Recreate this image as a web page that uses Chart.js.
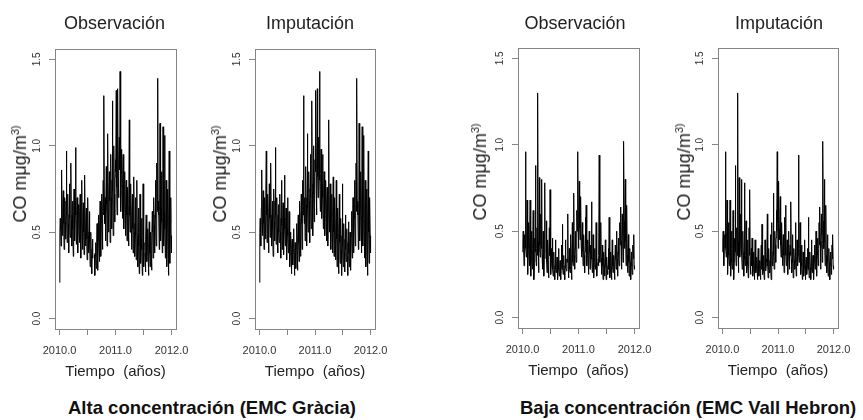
<!DOCTYPE html>
<html>
<head>
<meta charset="utf-8">
<script src="https://cdn.jsdelivr.net/npm/chart.js@4.4.0/dist/chart.umd.min.js"></script>
<style>
html,body{margin:0;padding:0;background:#fff;}
body{width:863px;height:420px;position:relative;overflow:hidden;font-family:"Liberation Sans",Arial,sans-serif;}
canvas{position:absolute;top:0;}
.t{position:absolute;white-space:nowrap;color:#222;line-height:1;}
.pt{font-size:18px;top:23px;transform:translate(-50%,-50%);}
.yt{font-size:18px;transform:translate(-50%,-50%) rotate(-90deg);}
.yt sup{font-size:11px;vertical-align:7px;line-height:0;}
.bt{font-weight:bold;font-size:18.5px;top:408px;transform:translateY(-50%);color:#111;}
</style>
</head>
<body>
<canvas id="c0"></canvas>
<canvas id="c1"></canvas>
<canvas id="c2"></canvas>
<canvas id="c3"></canvas>

<div class="t pt" style="left:114.5px">Observación</div>
<div class="t pt" style="left:310px">Imputación</div>
<div class="t pt" style="left:575px">Observación</div>
<div class="t pt" style="left:779px">Imputación</div>

<div class="t yt" style="left:20px;top:174px">CO mμg/m<sup>3)</sup></div>
<div class="t yt" style="left:220px;top:174px">CO mμg/m<sup>3)</sup></div>
<div class="t yt" style="left:480px;top:172px">CO mμg/m<sup>3)</sup></div>
<div class="t yt" style="left:684px;top:172px">CO mμg/m<sup>3)</sup></div>

<div class="t bt" style="left:68px">Alta concentración (EMC Gràcia)</div>
<div class="t bt" style="left:520px">Baja concentración (EMC Vall Hebron)</div>

<script>
// ---- data (2.5-day steps from 2010.0) ----
const startYear = 2010;
const stepDays = 2.5;
const xTicks = [2010, 2010.5, 2011, 2011.5, 2012];
const yTicks = [0, 0.5, 1.0, 1.5];

const graciaImp = [
  0.21,0.50, 0.58,0.52, 0.42,0.64, 0.86,0.58, 0.48,0.66, 0.74,0.55, 0.40,0.62, 0.70,0.56, 0.46,0.68, 0.97,0.60,
  0.44,0.64, 0.72,0.55, 0.38,0.60, 0.78,0.58, 0.47,0.66, 0.90,0.57, 0.42,0.60, 0.68,0.52, 0.36,0.62, 0.75,0.56,
  0.45,0.68, 0.99,0.60, 0.43,0.58, 0.70,0.52, 0.38,0.60, 0.66,0.50, 0.44,0.62, 0.72,0.50, 0.35,0.58, 0.80,0.54,
  0.40,0.55, 0.67,0.50, 0.37,0.58, 0.83,0.52, 0.42,0.56, 0.64,0.46, 0.34,0.52, 0.70,0.48, 0.38,0.50, 0.62,0.44,
  0.30,0.42, 0.50,0.36, 0.26,0.40, 0.46,0.35, 0.31,0.42, 0.52,0.37, 0.25,0.38, 0.44,0.36, 0.29,0.44, 0.55,0.40,
  0.28,0.45, 0.60,0.44, 0.33,0.52, 0.68,0.50, 0.36,0.56, 0.72,0.55, 0.40,0.62, 0.80,0.60, 1.29,0.66, 0.55,0.70,
  0.45,0.62, 0.88,0.66, 0.42,0.70, 1.07,0.64, 0.50,0.72, 0.85,0.68, 0.44,0.75, 0.95,0.70, 0.52,0.80, 1.26,0.74,
  0.48,0.78, 1.00,0.72, 0.56,0.82, 0.92,0.85, 1.32,0.76, 0.60,0.90, 1.33,0.82, 0.70,0.92, 1.05,0.86, 1.43,0.80,
  0.62,0.84, 0.98,0.74, 0.58,0.78, 0.95,0.70, 0.52,0.72, 0.85,0.64, 0.48,0.66, 0.80,0.60, 0.45,0.64, 0.76,0.58,
  0.42,0.66, 1.15,0.60, 0.50,0.62, 0.78,0.56, 0.40,0.60, 0.72,0.52, 0.38,0.58, 0.82,0.50, 0.36,0.55, 0.70,0.48,
  0.34,0.52, 0.80,0.46, 0.30,0.48, 0.64,0.42, 0.26,0.50, 0.72,0.44, 0.32,0.46, 0.58,0.40, 0.25,0.48, 0.78,0.42,
  0.30,0.44, 0.55,0.38, 0.27,0.46, 0.60,0.40, 0.33,0.42, 0.52,0.36, 0.25,0.44, 0.56,0.38, 0.30,0.42, 0.50,0.40,
  0.28,0.48, 0.62,0.50, 0.35,0.56, 0.70,0.54, 0.38,0.60, 0.80,0.58, 0.42,0.66, 0.90,0.62, 1.39,0.68, 0.60,0.64,
  0.40,0.62, 1.13,0.58, 0.45,0.64, 0.85,0.56, 0.38,0.60, 1.11,0.54, 0.42,0.62, 1.06,0.52, 0.35,0.58, 0.80,0.50,
  0.30,0.54, 0.75,0.46, 0.25,0.56, 0.97,0.50, 0.32,0.55, 0.70,0.48, 0.38
];
const graciaObsGaps = [88, 89, 90, 222];

const vallImp = [
  0.38,0.44, 0.50,0.40, 0.30,0.42, 0.48,0.45, 0.96,0.40, 0.35,0.46, 0.68,0.38, 0.25,0.40, 0.55,0.36, 0.30,0.42,
  0.68,0.36, 0.24,0.34, 0.50,0.32, 0.28,0.40, 0.62,0.34, 0.22,0.32, 0.46,0.38, 0.88,0.42, 0.30,0.40, 0.52,0.36,
  1.30,0.44, 0.26,0.38, 0.81,0.42, 0.35,0.46, 0.60,0.40, 0.80,0.36, 0.28,0.34, 0.50,0.36, 0.24,0.38, 0.78,0.34,
  0.30,0.36, 0.56,0.32, 0.26,0.34, 0.45,0.30, 0.23,0.33, 0.52,0.36, 0.74,0.30, 0.25,0.32, 0.40,0.30, 0.46,0.28,
  0.24,0.30, 0.38,0.27, 0.22,0.30, 0.45,0.28, 0.26,0.29, 0.35,0.27, 0.22,0.30, 0.40,0.28, 0.24,0.29, 0.33,0.26,
  0.22,0.30, 0.42,0.28, 0.54,0.30, 0.25,0.28, 0.36,0.27, 0.22,0.30, 0.45,0.29, 0.27,0.30, 0.34,0.32, 0.60,0.30,
  0.23,0.30, 0.40,0.28, 0.26,0.33, 0.48,0.30, 0.22,0.34, 0.55,0.32, 0.30,0.38, 0.72,0.36, 0.28,0.40, 0.50,0.42,
  0.32,0.46, 0.62,0.50, 0.96,0.55, 0.40,0.60, 0.79,0.52, 0.45,0.48, 0.70,0.42, 0.35,0.44, 0.55,0.38, 0.30,0.40,
  0.48,0.36, 0.26,0.38, 0.58,0.42, 0.65,0.36, 0.30,0.38, 0.45,0.34, 0.25,0.36, 0.50,0.38, 0.28,0.34, 0.42,0.36,
  0.67,0.34, 0.26,0.32, 0.48,0.36, 0.23,0.30, 0.40,0.33, 0.28,0.32, 0.55,0.35, 0.24,0.32, 0.45,0.34, 0.30,0.36,
  0.94,0.38, 0.32,0.40, 0.55,0.34, 0.25,0.32, 0.42,0.30, 0.22,0.28, 0.38,0.30, 0.24,0.29, 0.45,0.30, 0.22,0.28,
  0.35,0.27, 0.25,0.30, 0.40,0.28, 0.58,0.30, 0.23,0.27, 0.38,0.29, 0.22,0.28, 0.45,0.30, 0.26,0.32, 0.36,0.30,
  0.22,0.32, 0.42,0.34, 0.28,0.36, 0.50,0.34, 0.24,0.38, 0.46,0.36, 0.30,0.40, 0.55,0.42, 0.64,0.44, 0.28,0.40,
  0.60,0.48, 0.32,0.52, 1.02,0.56, 0.40,0.50, 0.80,0.44, 0.30,0.40, 0.65,0.36, 0.26,0.34, 0.48,0.32, 0.24,0.30,
  0.40,0.32, 0.22,0.30, 0.38,0.34, 0.25,0.32, 0.42,0.34, 0.48,0.30, 0.28
];
const vallObsGaps = [60, 61, 196];

// ---- build ----
function toPoints(vals, gaps) {
  return vals.map((v, i) => ({
    x: startYear + i * stepDays / 365,
    y: gaps.includes(i) ? null : v
  }));
}

const FAM = '"Liberation Sans", Arial, sans-serif';
Chart.defaults.font.family = FAM;

const boxPlugin = {
  id: 'box',
  afterDraw(chart) {
    const {ctx, chartArea: a} = chart;
    ctx.save();
    ctx.strokeStyle = '#858585';
    ctx.lineWidth = 1;
    ctx.strokeRect(Math.round(a.left) + 0.5, Math.round(a.top) + 0.5,
                   Math.round(a.right - a.left), Math.round(a.bottom - a.top));
    ctx.restore();
  }
};

const panels = [
  {id: 'c0', left: 55,  top: 49, w: 121, vals: graciaImp, gaps: graciaObsGaps},
  {id: 'c1', left: 255, top: 49, w: 120, vals: graciaImp, gaps: []},
  {id: 'c2', left: 518, top: 48, w: 121, vals: vallImp,   gaps: vallObsGaps},
  {id: 'c3', left: 718, top: 48, w: 120, vals: vallImp,   gaps: []}
];

const AXW = 50, PADR = 25, CH = 390, PH = 280, XAH = 52;

panels.forEach(p => {
  const cv = document.getElementById(p.id);
  cv.width = AXW + p.w + PADR;
  cv.height = CH;
  cv.style.left = (p.left - AXW) + 'px';
  const gridOpts = {drawOnChartArea: false, drawTicks: true, tickLength: 6, color: '#858585', lineWidth: 1};
  new Chart(cv, {
    type: 'line',
    data: {
      datasets: [{
        data: toPoints(p.vals, p.gaps),
        borderColor: '#000',
        borderWidth: 1,
        pointRadius: 0,
        tension: 0,
        spanGaps: false,
        fill: false
      }]
    },
    options: {
      responsive: false,
      animation: false,
      events: [],
      layout: {padding: {top: p.top, left: 0, right: PADR, bottom: CH - p.top - PH - XAH}},
      plugins: {legend: {display: false}, tooltip: {enabled: false}, title: {display: false}},
      scales: {
        x: {
          type: 'linear',
          min: 2009.92, max: 2012.08,
          afterBuildTicks: s => { s.ticks = xTicks.map(v => ({value: v})); },
          afterFit: s => { s.height = XAH; },
          ticks: {
            autoSkip: false, maxRotation: 0, minRotation: 0, padding: 9,
            font: {size: 11}, color: '#333',
            callback: v => Number.isInteger(v) ? v.toFixed(1) : ''
          },
          grid: gridOpts,
          border: {display: true, color: '#858585'},
          title: {display: true, text: 'Tiempo  (años)', font: {size: 15}, color: '#222', padding: {top: 0, bottom: 0}}
        },
        y: {
          type: 'linear',
          min: -0.06, max: 1.56,
          afterBuildTicks: s => { s.ticks = yTicks.map(v => ({value: v})); },
          afterFit: s => { s.width = AXW; },
          ticks: {
            minRotation: 90, maxRotation: 90, crossAlign: 'center', padding: 5,
            font: {size: 10}, color: '#333',
            callback: v => v.toFixed(1)
          },
          grid: gridOpts,
          border: {display: true, color: '#858585'}
        }
      }
    },
    plugins: [boxPlugin]
  });
});
</script>
</body>
</html>
